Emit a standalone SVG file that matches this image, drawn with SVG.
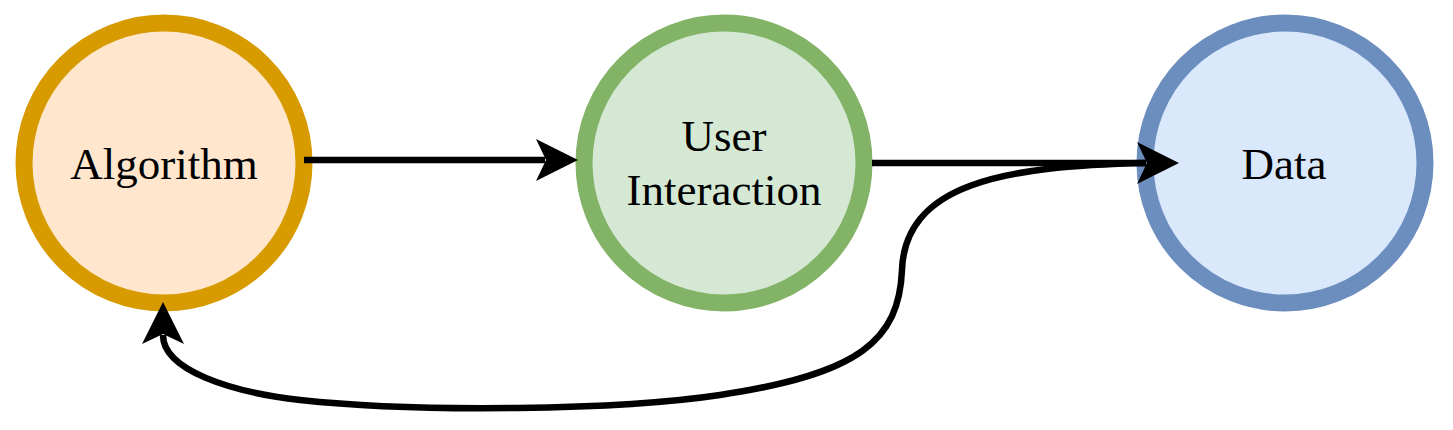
<svg xmlns="http://www.w3.org/2000/svg" width="1453" height="430" viewBox="0 0 1453 430">
<style>
.lbl{font-family:"Liberation Serif","Times New Roman",serif;font-size:45px;fill:#000;text-anchor:middle}
.node{stroke-width:17}
.edge{fill:none;stroke:#000;stroke-width:6.5;marker-end:url(#arr)}
</style>
<defs>
<marker id="arr" markerUnits="userSpaceOnUse" markerWidth="42" markerHeight="42" viewBox="0 0 42 42" refX="9" refY="21" orient="auto">
<path d="M0,0 L42,21 L0,42 L10,21 Z" fill="#000"/>
</marker>
</defs>
<rect width="1453" height="430" fill="#fff"/>
<g id="algorithm">
<circle class="node" cx="164" cy="163" r="140" fill="#ffe6cc" stroke="#d79b00"/>
<text class="lbl" x="164" y="179">Algorithm</text>
</g>
<g id="user-interaction">
<circle class="node" cx="724" cy="163" r="140" fill="#d5e8d4" stroke="#82b366"/>
<text class="lbl" x="724" y="151">User</text>
<text class="lbl" x="724" y="205">Interaction</text>
</g>
<g id="data">
<circle class="node" cx="1285" cy="163" r="140" fill="#dae8fc" stroke="#6c8ebf"/>
<text class="lbl" x="1284" y="179">Data</text>
</g>
<g id="connectors">
<path class="edge" d="M304,160 L545,160"/>
<path class="edge" d="M872,163 L1146,163"/>
<path class="edge" d="M1146,163 C1000,166 905,185 902,270 C899,340 860,374 720,395 C620,410 420,413 300,400 C230,392 163,370 163,335"/>
</g>
</svg>
